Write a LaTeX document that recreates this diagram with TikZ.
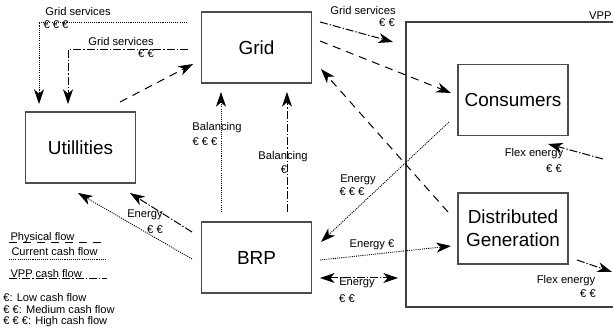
\documentclass[tikz,border=0pt]{standalone}
\usepackage{fontspec}
\setmainfont{Liberation Sans}
\usetikzlibrary{arrows.meta}

\tikzset{every picture/.style={line width=0.75pt}}
\tikzset{
  >={Stealth[length=11pt,width=7.5pt,inset=3.2pt]},
  box/.style={draw=black!70, line width=1pt, minimum width=82.5pt, minimum height=53.25pt,
    inner sep=0pt, align=center, font=\fontsize{14.2}{17}\selectfont},
  lbl/.style={inner sep=0pt, anchor=base, font=\fontsize{8.4}{10}\selectfont},
  leg/.style={inner sep=0pt, anchor=base west, font=\fontsize{8.3}{10}\selectfont},
  physflow/.style={dash pattern=on 6pt off 4.5pt},
  curflow/.style={line width=0.65pt, dash pattern=on 0.8pt off 0.8pt},
  vppflow/.style={dash pattern=on 6pt off 1.5pt on 1pt off 1.5pt},
}

\begin{document}
\begin{tikzpicture}[x=0.75pt,y=0.75pt,yscale=-1,xscale=1]
	\clip (0,0) rectangle (613,334);

	%Shape: VPP frame
	\draw [draw=black!75, line width=1.1pt] (640,22) -- (406,22) -- (406,307) -- (640,307) ;
	% Text Node
	\node [lbl, anchor=base east] (vpp) at (612,20) {VPP};

	% Boxes
	\node [box] (grid) at (256.5,47.5) {Grid};
	\node [box] (util) at (80.5,147.5) {Utillities};
	\node [box] (brp) at (256.5,257.5) {BRP};
	\node [box] (cons) at (513,100) {Consumers};
	\node [box] (dg) at (513,228.5) {Distributed\\Generation};

	% Arrow ends
	\coordinate (gsA1) at (187,22);   \coordinate (gsA2) at (39,104);
	\coordinate (gsB1) at (188,50);   \coordinate (gsB2) at (68,104);
	\coordinate (ugA) at (120,102);   \coordinate (ugB) at (193,64);
	\coordinate (gvA) at (320,22);    \coordinate (gvB) at (393,42);
	\coordinate (gcA) at (320,41);    \coordinate (gcB) at (451,93);
	\coordinate (dgA) at (448,212);   \coordinate (dgB) at (321,69);
	\coordinate (cbA) at (449,122);   \coordinate (cbB) at (321,242);
	\coordinate (bdA) at (320,260);   \coordinate (bdB) at (451,246);
	\coordinate (bvA) at (320,278);   \coordinate (bvB) at (398,278);
	\coordinate (balA1) at (221,212); \coordinate (balA2) at (221,92);
	\coordinate (balB1) at (287,212); \coordinate (balB2) at (287,92);
	\coordinate (buA1) at (192,259);  \coordinate (buA2) at (78,193);
	\coordinate (buB1) at (192,232);  \coordinate (buB2) at (130,193);
	\coordinate (fxA1) at (603,159);  \coordinate (fxA2) at (548,144);
	\coordinate (fxB1) at (577,260);  \coordinate (fxB2) at (612,272);

	%Straight Lines
	\draw [curflow, ->] (gsA1) -| (gsA2) ;
	\draw [vppflow, ->] (gsB1) -| (gsB2) ;
	\draw [physflow, ->] (ugA) -- (ugB) ;
	\draw [vppflow, ->] (gvA) -- (gvB) ;
	\draw [physflow, ->] (gcA) -- (gcB) ;
	\draw [physflow, ->] (dgA) -- (dgB) ;
	\draw [curflow, ->] (cbA) -- (cbB) ;
	\draw [curflow, ->] (bdA) -- (bdB) ;
	\draw [vppflow, <->] (bvA) -- (bvB) ;
	\draw [curflow, ->] (balA1) -- (balA2) ;
	\draw [vppflow, ->] (balB1) -- (balB2) ;
	\draw [curflow, ->] (buA1) -- (buA2) ;
	\draw [vppflow, ->] (buB1) -- (buB2) ;
	\draw [vppflow, ->] (fxA1) -- (fxA2) ;
	\draw [vppflow, ->] (fxB1) -- (fxB2) ;

	% Text Node
	\node [lbl] (gsT1) at (78,16) {Grid services};
	\node [lbl] (gsE1) at (56,29) {€ € €};
	\node [lbl] (gsT2) at (121,46) {Grid services};
	\node [lbl] (gsE2) at (146,58) {€ €};
	\node [lbl] (gvT) at (363,15) {Grid services};
	\node [lbl] (gvE) at (387,27) {€ €};
	\node [lbl] (balT1) at (217,131) {Balancing};
	\node [lbl] (balE1) at (205,146) {€ € €};
	\node [lbl] (balT2) at (283,160) {Balancing};
	\node [lbl] (balE2) at (284,174) {€};
	\node [lbl] (cbT) at (358,183) {Energy};
	\node [lbl] (cbE) at (352,196) {€ € €};
	\node [lbl] (bdT) at (372,248) {Energy €};
	\node [lbl] (bvT) at (357,286) {Energy};
	\node [lbl] (bvE) at (347,302) {€ €};
	\node [lbl] (buT) at (145,218) {Energy};
	\node [lbl] (buE) at (155,234) {€ €};
	\node [lbl] (fxT1) at (534,157) {Flex energy};
	\node [lbl] (fxE1) at (554,173) {€ €};
	\node [lbl] (fxT2) at (566,283) {Flex energy};
	\node [lbl] (fxE2) at (588,297) {€ €};

	% Legend
	\node [leg] (legP) at (10,241) {Physical flow};
	\node [leg] (legC) at (11,256) {Current cash flow};
	\node [leg] (legV) at (10,277) {VPP cash flow};
	\coordinate (legP1) at (9,243);  \coordinate (legP2) at (107,243);
	\coordinate (legC1) at (9,259);  \coordinate (legC2) at (107,259);
	\coordinate (legV1) at (9,279);  \coordinate (legV2) at (107,279);
	\draw [physflow] (legP1) -- (legP2) ;
	\draw [curflow] (legC1) -- (legC2) ;
	\draw [vppflow] (legV1) -- (legV2) ;
	\node [leg] (keyL) at (3,301) {€: Low cash flow};
	\node [leg] (keyM) at (3,313) {€ €: Medium cash flow};
	\node [leg] (keyH) at (3,325) {€ € €: High cash flow};

\end{tikzpicture}
\end{document}
